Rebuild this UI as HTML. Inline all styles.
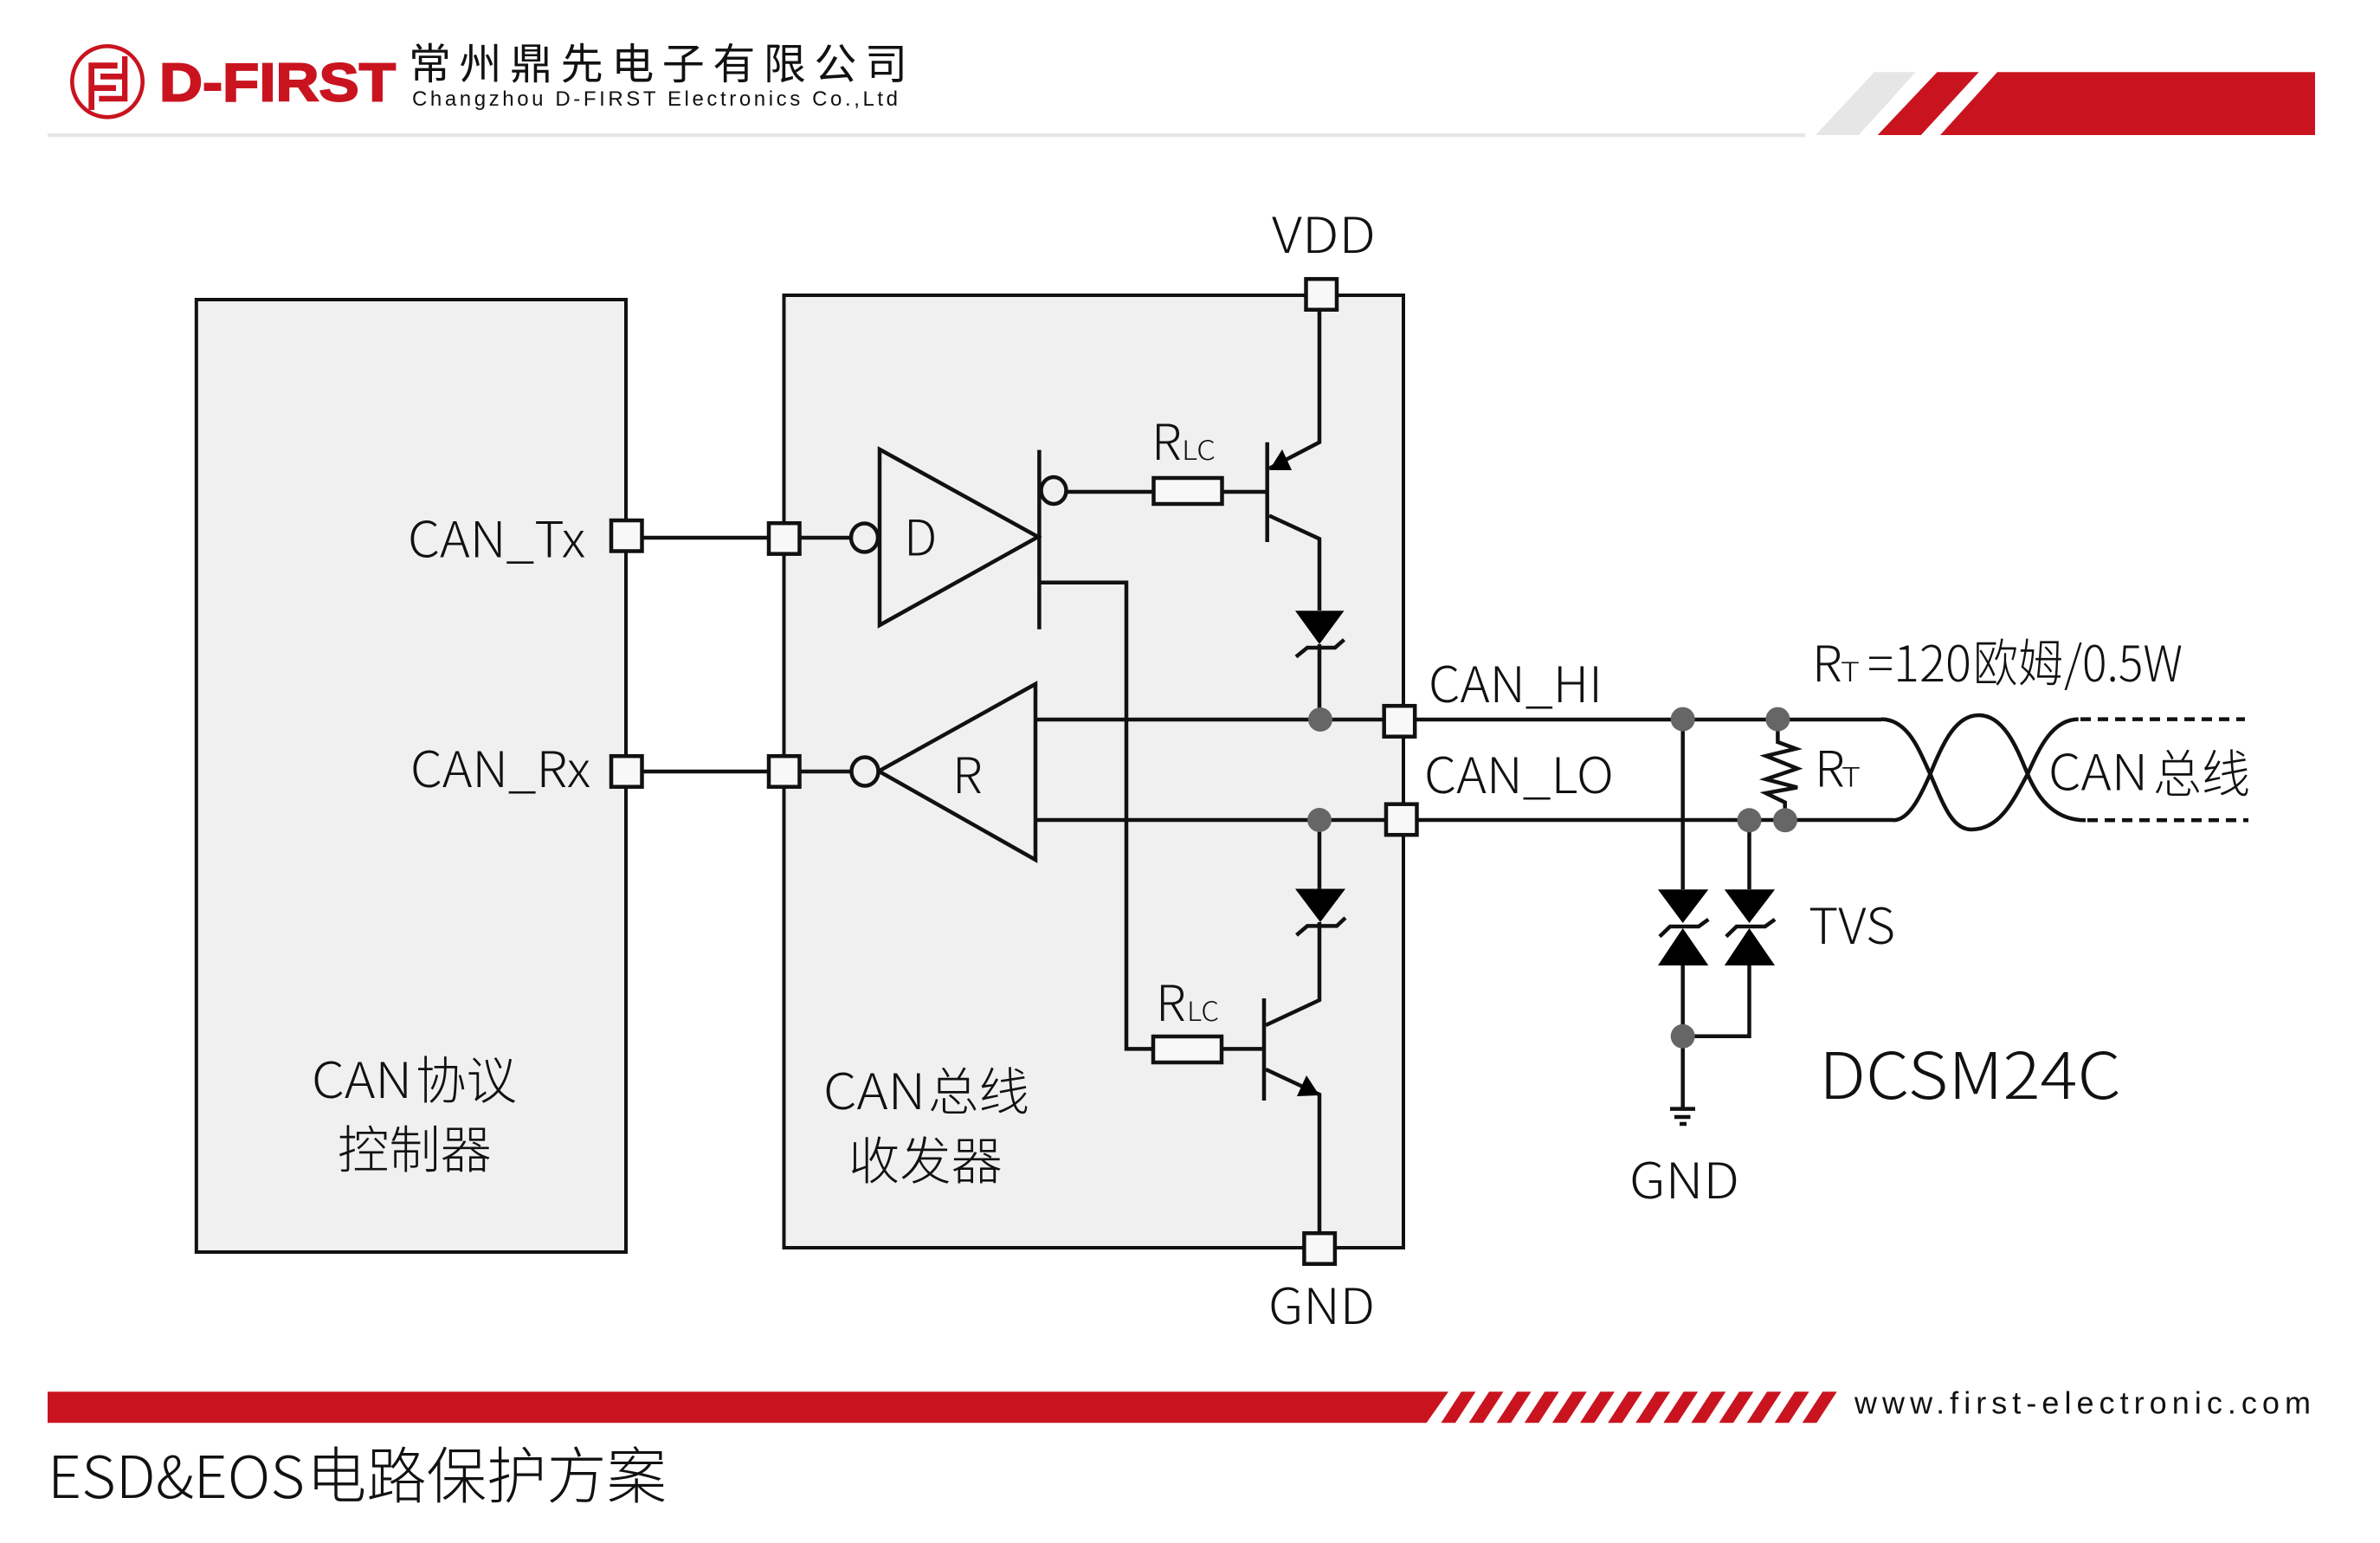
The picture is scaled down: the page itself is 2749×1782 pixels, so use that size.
<!DOCTYPE html>
<html lang="zh">
<head>
<meta charset="utf-8">
<title>ESD&amp;EOS电路保护方案</title>
<style>
html,body{margin:0;padding:0;background:#fff;width:2749px;height:1782px;overflow:hidden}
svg{display:block}
text{font-family:"Noto Sans CJK SC","Liberation Sans",sans-serif;font-weight:300;fill:#111}
.w{fill:none;stroke:#111;stroke-width:4.5;stroke-linejoin:miter}
.p{fill:#f8f8f8;stroke:#111;stroke-width:4.5}
.c{fill:#f0f0f0;stroke:#111;stroke-width:4.5}
.n{fill:#666}
.k{fill:#000}
.s{font-size:57px}
.z{font-size:59px}
.sm{font-size:31px}
</style>
</head>
<body>
<svg xmlns="http://www.w3.org/2000/svg" width="2749" height="1782" viewBox="0 0 2749 1782">
<rect width="2749" height="1782" fill="#fff"/>

<!-- Header -->
<rect x="55" y="154" width="2030" height="4.3" fill="#e6e6e6"/>
<polygon points="2164.8,83.3 2212.6,83.3 2147,156 2097,156" fill="#e6e6e6"/>
<polygon points="2237.5,83.3 2285.7,83.3 2218.8,156 2168.7,156" fill="#c9141f"/>
<polygon points="2307,83.3 2674,83.3 2674,156 2241,156" fill="#c9141f"/>
<ellipse cx="124" cy="94.3" rx="40.7" ry="41" fill="none" stroke="#c9141f" stroke-width="4.6"/>
<path d="M102.3 72.3H135.7V79.3H109V98.3H134V105H109V127H102.3Z M141 65H147.3V117.3H114.3V110.7H141V91.7H116V85H141Z" fill="#c9141f"/>
<text x="184" y="116.5" font-size="62" textLength="273" lengthAdjust="spacingAndGlyphs" style="font-family:'Liberation Sans',sans-serif;font-weight:700;fill:#c9141f;stroke:#c9141f;stroke-width:2">D-FIRST</text>
<text x="472" y="91" font-size="49" textLength="576" lengthAdjust="spacing" style="font-weight:400">常州鼎先电子有限公司</text>
<text x="476" y="122" font-size="24" textLength="561" lengthAdjust="spacing" style="font-family:'Liberation Sans',sans-serif;font-weight:400">Changzhou D-FIRST Electronics Co.,Ltd</text>

<!-- Boxes -->
<rect x="226.8" y="346" width="496.2" height="1100" fill="#f0f0f0" stroke="#111" stroke-width="4"/>
<rect x="905.5" y="341" width="715.5" height="1100" fill="#f0f0f0" stroke="#111" stroke-width="4"/>

<!-- Left wires -->
<path class="w" d="M724 621H982"/>
<path class="w" d="M724 891H982"/>

<!-- Driver -->
<polygon class="c" points="1016,519 1016,722 1199,620"/>
<ellipse class="c" cx="998.5" cy="621" rx="15.5" ry="16.5"/>
<path class="w" d="M1200.4 519.6V726.8"/>
<ellipse class="c" cx="1217" cy="566.5" rx="14.5" ry="15.5"/>
<path class="w" d="M1232 568H1331"/>
<rect class="p" x="1332.5" y="552" width="79" height="30"/>
<path class="w" d="M1412 568H1463"/>
<!-- Upper transistor -->
<path class="w" d="M1463.7 510.7V626"/>
<path class="w" d="M1524 359V510.7L1466 541"/>
<polygon class="k" points="1481,519 1492,543 1466,543"/>
<path class="w" d="M1466 595.5L1524 622.3V705"/>
<polygon class="k" points="1496,705.4 1552.5,705.4 1524,744"/>
<path class="w" d="M1497 758.5L1510 748H1542L1552.5 738.8"/>
<path class="w" d="M1524 744V831"/>

<!-- Driver to lower transistor -->
<path class="w" d="M1202 672.8H1301V1211.4H1330"/>
<rect class="p" x="1332" y="1197" width="79" height="30"/>
<path class="w" d="M1412 1211.4H1460"/>
<path class="w" d="M1460 1153V1271"/>
<path class="w" d="M1462 1184L1524 1155V1065"/>
<polygon class="k" points="1496,1026.5 1554,1026.5 1525,1065"/>
<path class="w" d="M1497.5 1080L1510 1069.4H1544L1554 1060"/>
<path class="w" d="M1524 947V1027"/>
<path class="w" d="M1462 1235L1524 1264V1424"/>
<polygon class="k" points="1509,1242 1524,1265 1498,1266"/>

<!-- Receiver -->
<polygon class="c" points="1196,790 1196,993 1015,890.6"/>
<ellipse class="c" cx="999" cy="891" rx="15.5" ry="16.5"/>

<!-- Bus lines -->
<path class="w" d="M1196 831H2173"/>
<path class="w" d="M1196 947H2187"/>
<path class="w" d="M2173 830.6C2205 830.6 2218 870 2229.5 894C2245 930 2255 958 2277 958C2310 958 2325 925 2342 894C2355 865 2370 830.6 2400.7 830.6"/>
<path class="w" d="M2186.7 947.3C2205 947.3 2218 920 2229.5 894C2245 855 2260 826 2285.5 826C2315 826 2330 865 2342 894C2355 925 2375 947.3 2409 947.3"/>
<path class="w" d="M2403 830.6H2593" stroke-dasharray="12 8"/>
<path class="w" d="M2411 947.3H2597" stroke-dasharray="12 8"/>

<!-- Termination and TVS -->
<path class="w" d="M1943.7 830V1027M1943.7 1115V1280"/>
<path class="w" d="M2020.5 947V1027M2020.5 1115V1196.8H1943.7"/>
<path class="w" d="M2053.4 844V857L2074.3 864.7L2039.7 873L2076 887.6L2039.7 899.9L2076 909.4L2039.7 916L2061.7 926.7V934.3"/>
<polygon class="k" points="1915,1027.3 1973.3,1027.3 1943.7,1066"/>
<polygon class="k" points="1943.7,1072 1915,1115 1973.3,1115"/>
<path class="w" d="M1917 1081.6L1929 1070H1962L1973.3 1061.8"/>
<polygon class="k" points="1991.8,1027.3 2050.1,1027.3 2020.5,1066"/>
<polygon class="k" points="2020.5,1072 1991.8,1115 2050.1,1115"/>
<path class="w" d="M1993.8 1081.6L2005.8 1070H2038.8L2050.1 1061.8"/>
<!-- Ground -->
<path class="w" d="M1929 1280.6H1958M1934 1290H1952.5M1940 1298H1948"/>

<!-- Nodes -->
<circle class="n" cx="1525" cy="831" r="14"/>
<circle class="n" cx="1524" cy="947" r="14"/>
<circle class="n" cx="1943.7" cy="830.6" r="14"/>
<circle class="n" cx="2053.4" cy="830.6" r="14"/>
<circle class="n" cx="2020.5" cy="947.3" r="14"/>
<circle class="n" cx="2062" cy="947.3" r="14"/>
<circle class="n" cx="1943.7" cy="1196.8" r="14"/>

<!-- Pins -->
<rect class="p" x="706" y="601" width="35.5" height="35.5"/>
<rect class="p" x="706" y="873.2" width="35.5" height="35.5"/>
<rect class="p" x="888" y="604.2" width="35.5" height="35.5"/>
<rect class="p" x="888" y="873.2" width="35.5" height="35.5"/>
<rect class="p" x="1508.5" y="322.2" width="35.5" height="35.5"/>
<rect class="p" x="1598.7" y="815.2" width="35.5" height="35.5"/>
<rect class="p" x="1601" y="928.7" width="35.5" height="35.5"/>
<rect class="p" x="1506.4" y="1424.2" width="35.5" height="35.5"/>

<!-- Labels -->
<text class="s" x="1469" y="292" textLength="120" lengthAdjust="spacingAndGlyphs">VDD</text>
<text class="s" x="1465" y="1529" textLength="123" lengthAdjust="spacingAndGlyphs">GND</text>
<text class="s" x="1882" y="1384" textLength="127" lengthAdjust="spacingAndGlyphs">GND</text>
<text class="s" x="471" y="643.3" textLength="205" lengthAdjust="spacingAndGlyphs">CAN_Tx</text>
<text class="s" x="474" y="909" textLength="208" lengthAdjust="spacingAndGlyphs">CAN_Rx</text>
<text class="s" x="1044" y="641.5">D</text>
<text class="s" x="1100" y="916">R</text>
<text class="s" x="1330" y="531">R</text>
<text class="sm" x="1365" y="531" textLength="39" lengthAdjust="spacingAndGlyphs">LC</text>
<text class="s" x="1335" y="1179">R</text>
<text class="sm" x="1371" y="1179" textLength="37" lengthAdjust="spacingAndGlyphs">LC</text>
<text class="s" x="1650" y="811" textLength="201" lengthAdjust="spacingAndGlyphs">CAN_HI</text>
<text class="s" x="1645" y="916" textLength="219" lengthAdjust="spacingAndGlyphs">CAN_LO</text>
<text class="s" x="2093" y="787">R</text>
<text class="sm" x="2126" y="787" textLength="22" lengthAdjust="spacingAndGlyphs">T</text>
<text class="s" x="2157" y="787" textLength="120" lengthAdjust="spacingAndGlyphs">=120</text>
<text class="z" x="2279" y="787" textLength="104" lengthAdjust="spacingAndGlyphs">欧姆</text>
<text class="s" x="2384" y="787" textLength="137" lengthAdjust="spacingAndGlyphs">/0.5W</text>
<text class="s" x="2096" y="908.7">R</text>
<text class="sm" x="2127" y="908.7" textLength="22" lengthAdjust="spacingAndGlyphs">T</text>
<text class="s" x="2366" y="912.5" textLength="115" lengthAdjust="spacingAndGlyphs">CAN</text>
<text class="z" x="2487" y="915" textLength="112" lengthAdjust="spacingAndGlyphs">总线</text>
<text class="s" x="2089" y="1090" textLength="100" lengthAdjust="spacingAndGlyphs">TVS</text>
<text x="2101" y="1269" font-size="74" textLength="349" lengthAdjust="spacingAndGlyphs">DCSM24C</text>

<text class="s" x="360" y="1268" textLength="116" lengthAdjust="spacingAndGlyphs">CAN</text>
<text class="z" x="480" y="1269" textLength="117" lengthAdjust="spacingAndGlyphs">协议</text>
<text class="z" x="390" y="1349" textLength="178" lengthAdjust="spacingAndGlyphs">控制器</text>
<text class="s" x="951" y="1281" textLength="118" lengthAdjust="spacingAndGlyphs">CAN</text>
<text class="z" x="1072" y="1282" textLength="117" lengthAdjust="spacingAndGlyphs">总线</text>
<text class="z" x="980" y="1362" textLength="178" lengthAdjust="spacingAndGlyphs">收发器</text>

<!-- Footer -->
<polygon points="55,1607.3 1673,1607.3 1647.6,1643.3 55,1643.3" fill="#c9141f"/>
<path fill="#c9141f" d="M1664.5 1643.3h16.5l23.4-36h-16.5zM1696.6 1643.3h16.5l23.4-36h-16.5zM1728.7 1643.3h16.5l23.4-36h-16.5zM1760.8 1643.3h16.5l23.4-36h-16.5zM1792.9 1643.3h16.5l23.4-36h-16.5zM1825 1643.3h16.5l23.4-36h-16.5zM1857.1 1643.3h16.5l23.4-36h-16.5zM1889.2 1643.3h16.5l23.4-36h-16.5zM1921.3 1643.3h16.5l23.4-36h-16.5zM1953.4 1643.3h16.5l23.4-36h-16.5zM1985.5 1643.3h16.5l23.4-36h-16.5zM2017.6 1643.3h16.5l23.4-36h-16.5zM2049.7 1643.3h16.5l23.4-36h-16.5zM2081.8 1643.3h16.5l23.4-36h-16.5z"/>
<text x="2142" y="1632.7" font-size="36" textLength="527" lengthAdjust="spacing" style="font-family:'Liberation Sans',sans-serif;font-weight:400">www.first-electronic.com</text>
<text x="55" y="1730" font-size="67" textLength="297" lengthAdjust="spacingAndGlyphs" style="font-weight:300">ESD&amp;EOS</text>
<text x="354" y="1730" font-size="71" textLength="416" lengthAdjust="spacingAndGlyphs" style="font-weight:300">电路保护方案</text>
</svg>
</body>
</html>
